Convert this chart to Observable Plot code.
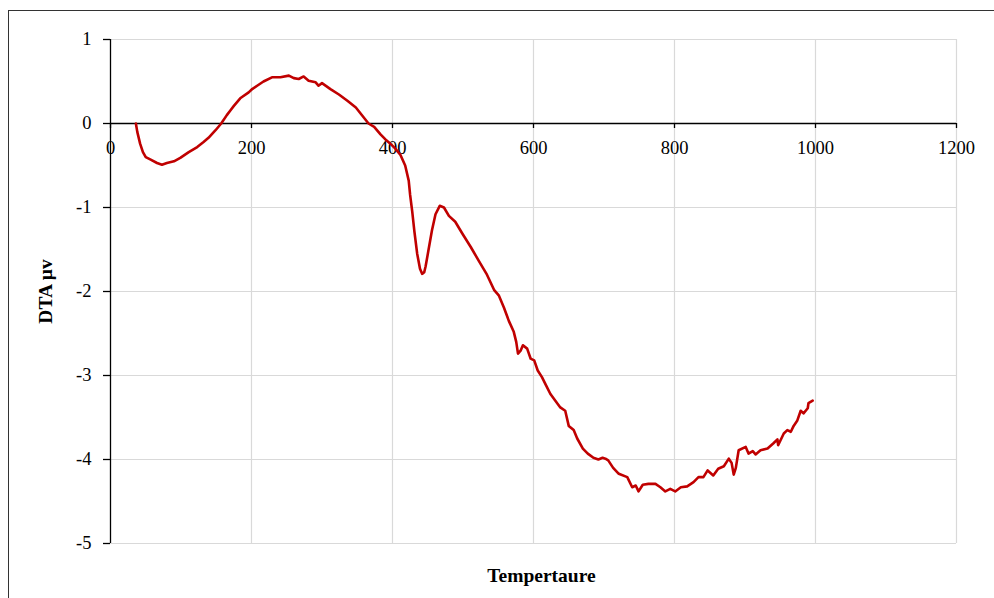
<!DOCTYPE html>
<html>
<head>
<meta charset="utf-8">
<script src="https://cdn.jsdelivr.net/npm/d3@7"></script>
<script src="https://cdn.jsdelivr.net/npm/@observablehq/plot@0.6"></script>
<style>
  html, body { margin: 0; padding: 0; background: #fff; overflow: hidden; }
  #wrap { position: relative; width: 994px; height: 598px; overflow: hidden; }
  #border { position: absolute; left: 8px; top: 10px; width: 1100px; height: 700px;
            border: 1.3px solid #333; box-sizing: border-box; pointer-events: none; }
</style>
</head>
<body>
<div id="wrap"><div id="border"></div></div>
<script>
const temperature = [36,38,42,46,50,57,66,73,80,90,99,111,123,132,139,149,157,165,170,175,184,196,201,208,217,229,241,253,260,267,274,281,291,295,300,312,324,336,348,357,366,374,383,390,397,404,411,418,423,425,428,431,435,439,442,445,447,451,456,461,467,473,480,489,499,511,522,534,544,551,558,565,572,575.5,578,582,585,591,596,601,606,612,618,624,631,638,645,650,657,662,670,677,685,692,698,702,706,713,721,733,740,745,749,755,763,773,780,787,794,801,809,818,827,834,841,847,855,862,870,877,881,884,887,891,901,905,911,915,922,932,940,946,947,955,960,965,969,974,979,983,989,990,996];
const dta = [0,-0.10,-0.24,-0.34,-0.40,-0.43,-0.47,-0.49,-0.47,-0.45,-0.41,-0.34,-0.28,-0.22,-0.17,-0.08,0,0.10,0.155,0.21,0.30,0.37,0.41,0.45,0.50,0.55,0.55,0.57,0.54,0.53,0.56,0.51,0.49,0.45,0.48,0.41,0.345,0.27,0.19,0.095,0,-0.04,-0.13,-0.19,-0.24,-0.30,-0.37,-0.50,-0.68,-0.85,-1.05,-1.28,-1.55,-1.73,-1.79,-1.77,-1.70,-1.51,-1.27,-1.08,-0.98,-1.00,-1.10,-1.17,-1.31,-1.47,-1.63,-1.80,-1.98,-2.05,-2.19,-2.35,-2.48,-2.60,-2.74,-2.70,-2.64,-2.68,-2.80,-2.82,-2.94,-3.02,-3.12,-3.22,-3.30,-3.38,-3.42,-3.60,-3.65,-3.75,-3.87,-3.93,-3.98,-4.00,-3.98,-3.99,-4.01,-4.10,-4.17,-4.21,-4.33,-4.31,-4.38,-4.30,-4.29,-4.29,-4.33,-4.38,-4.35,-4.38,-4.33,-4.32,-4.27,-4.21,-4.21,-4.13,-4.19,-4.11,-4.08,-3.99,-4.04,-4.18,-4.10,-3.89,-3.85,-3.93,-3.90,-3.94,-3.89,-3.87,-3.81,-3.76,-3.83,-3.69,-3.65,-3.67,-3.60,-3.54,-3.42,-3.45,-3.39,-3.33,-3.30];
const xTicks = [0,200,400,600,800,1000,1200];
const yTicks = [1,0,-1,-2,-3,-4,-5];
const xTitle = "Tempertaure";
const yTitle = "DTA μv";

const data = temperature.map((t, i) => ({t, v: dta[i]}));
const font = "'Liberation Serif', 'Times New Roman', serif";

const chart = Plot.plot({
  width: 994,
  height: 598,
  marginLeft: 110,
  marginRight: 38,
  marginTop: 39,
  marginBottom: 55,
  style: {fontFamily: font, fontSize: "18.5px", color: "#000", background: "transparent"},
  x: {domain: [0, 1200], axis: null},
  y: {domain: [-5, 1], axis: null},
  marks: [
    Plot.gridX(xTicks.filter(d => d !== 0), {stroke: "#d9d9d9", strokeOpacity: 1, strokeWidth: 1.2}),
    Plot.gridY(yTicks.filter(d => d !== 0), {stroke: "#d9d9d9", strokeOpacity: 1, strokeWidth: 1.2}),
    Plot.ruleX([0], {stroke: "#000", strokeWidth: 1.3}),
    Plot.ruleY([0], {stroke: "#000", strokeWidth: 1.3}),
    Plot.ruleX(xTicks, {x: d => d, y1: 0, y2: 0, insetBottom: -5, stroke: "#000", strokeWidth: 1.3}),
    Plot.axisY(yTicks, {tickSize: 7, tickPadding: 12, tickFormat: d => String(d), fontSize: 18.5, fontFamily: font, label: null, stroke: "#000", strokeWidth: 1.3}),
    Plot.text(xTicks, {x: d => d, y: 0, text: d => String(d), dy: 25, textAnchor: "middle", fontSize: 18.5, fontFamily: font, fill: "#000"}),
    Plot.line(data, {x: "t", y: "v", stroke: "#c00000", strokeWidth: 2.6, strokeLinejoin: "round"}),
    Plot.text([yTitle], {frameAnchor: "left", dx: -65, rotate: -90, textAnchor: "middle", lineAnchor: "middle", fontWeight: "bold", fontSize: 19.5, fontFamily: font, fill: "#000"}),
    Plot.text([xTitle], {frameAnchor: "bottom", dx: 8, dy: 32, textAnchor: "middle", lineAnchor: "middle", fontWeight: "bold", fontSize: 19.5, fontFamily: font, fill: "#000"})
  ]
});
document.getElementById("wrap").prepend(chart);
</script>
</body>
</html>
